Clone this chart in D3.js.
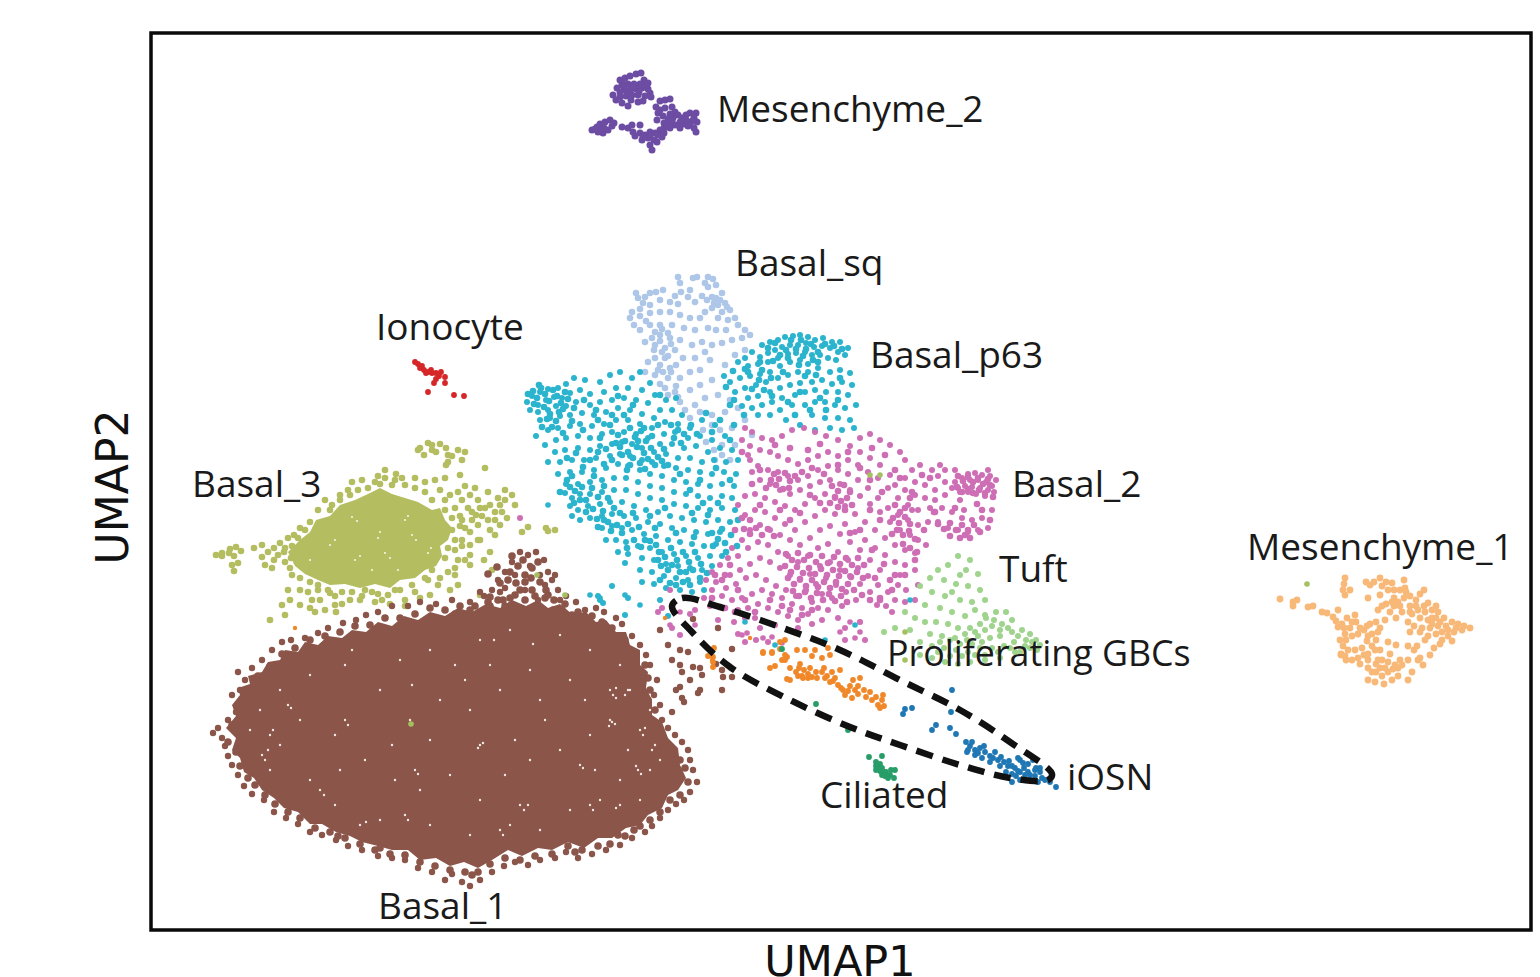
<!DOCTYPE html>
<html><head><meta charset="utf-8">
<script src="https://cdn.jsdelivr.net/npm/d3@7"></script>
<style>html,body{margin:0;background:#fff}svg{display:block}</style></head>
<body><svg id="c" width="1540" height="977"></svg>
<script>
const mesenchyme2=[620,80,625,78,630,76,636,74,641,73,644,80,648,83,640,84,634,84,628,84,622,85,617,88,620,92,625,90,630,90,636,89,642,88,648,89,650,93,645,96,638,95,632,95,626,96,620,97,613,95,616,100,622,103,631,100,638,102,628,106,643,101,651,97,660,101,665,100,670,99,656,107,660,110,665,108,672,107,675,112,670,114,658,113,663,116,668,119,672,122,664,123,657,120,678,115,682,118,686,120,690,113,696,113,694,118,697,122,690,124,684,124,680,128,694,128,696,132,675,125,670,128,664,128,660,130,655,133,650,132,645,135,640,133,635,136,633,132,628,128,622,127,654,140,650,145,652,150,657,142,662,137,658,135,642,140,648,138,600,124,605,122,610,120,612,126,604,128,597,127,592,130,598,132,603,133,608,130,614,123,632,125,640,125,686,115,680,122,624,87,633,87,639,92,628,93,622,82,645,86,684,119,688,126,692,121,601,130,595,129,667,125,673,118,650,136,643,137,664,133];
const ionocyte=[415,362,418,364,420,368,424,370,428,372,432,373,436,373,441,372,439,376,436,379,434,383,445,377,445,383,428,392,454,395,464,396,422,366,426,373,431,370];
const basalSq=[678,277,680,283,693,278,697,277,708,277,713,279,716,285,708,287,705,283,690,290,681,292,675,296,663,290,656,292,650,293,645,297,638,298,636,293,643,303,650,305,660,300,670,302,678,304,688,297,695,302,702,296,712,297,722,293,725,303,718,305,712,308,705,312,722,312,730,310,735,318,728,320,718,318,700,318,690,318,680,315,670,312,660,312,650,313,640,316,630,318,634,325,640,330,650,325,660,325,672,325,684,328,695,330,708,328,716,330,726,330,738,325,745,330,750,335,742,338,732,340,722,343,712,345,702,342,692,345,680,340,670,338,660,335,652,338,645,342,655,345,665,348,675,350,665,358,655,358,648,362,660,365,670,368,683,358,695,358,705,352,645,372,655,375,668,378,680,378,690,372,700,370,710,360,665,388,675,392,690,390,700,385,712,380,725,365,735,355,745,350,680,402,695,405,705,398,718,395,730,400,712,415,725,412,738,408,720,430,732,428,722,445,735,445,715,460,730,460,690,418,703,430,745,420,752,435,655,332,662,329,668,333,660,341,654,350,662,352,671,344,668,356,663,372,671,372,676,365,716,298,720,300,727,307,714,303,707,300,660,384,668,395,678,397,685,410,712,425,706,442,714,450,722,455,700,412,640,309,632,312,646,321,676,386,658,370];
const basalP63=[762,345,770,342,778,340,785,337,793,336,800,335,808,337,815,340,823,338,832,342,840,342,848,348,845,355,838,352,830,348,822,346,814,347,806,343,798,345,790,345,782,347,775,350,768,353,760,357,752,352,745,358,738,362,748,366,758,364,768,362,778,358,788,354,796,353,805,352,812,355,820,355,828,358,836,360,800,360,808,364,790,362,780,366,770,372,760,374,750,376,740,378,730,382,724,376,735,392,745,388,756,385,766,382,778,378,788,375,798,372,808,372,818,368,830,372,840,370,850,373,852,385,842,382,832,384,822,380,812,382,800,383,790,385,780,388,770,392,758,396,748,398,742,406,752,408,762,405,772,402,782,398,795,395,805,392,815,390,826,392,838,392,848,395,856,405,845,408,835,405,825,402,815,402,805,405,792,405,780,410,770,415,758,415,812,415,825,418,838,418,850,420,854,428,842,430,830,428,786,420,800,425,815,430,527,402,532,396,540,392,548,389,558,388,566,384,574,378,585,380,600,382,610,375,620,372,632,378,640,372,650,383,538,405,546,400,554,397,562,398,570,393,580,390,590,394,604,392,616,388,628,388,642,390,655,395,666,400,676,398,530,410,538,412,548,410,556,406,566,406,576,402,590,405,600,402,612,400,624,398,636,400,648,403,660,410,672,410,682,415,540,420,550,418,560,416,570,415,582,413,594,415,606,412,618,408,630,410,642,414,654,418,665,422,678,424,690,428,702,420,715,425,548,430,558,428,570,426,580,424,592,426,604,424,616,420,628,420,640,424,652,428,664,434,675,432,688,438,700,436,712,440,725,436,536,436,545,445,556,440,566,438,578,436,590,438,602,434,612,432,624,432,636,434,648,438,660,444,672,444,684,448,696,446,708,452,720,448,732,450,555,452,565,450,578,448,590,450,600,446,612,444,622,442,632,444,642,448,654,452,666,454,678,458,690,458,702,462,714,460,726,462,738,460,548,462,560,462,572,460,584,460,596,458,610,456,620,454,630,456,642,460,652,462,664,466,676,468,688,470,700,472,712,474,724,472,736,474,558,474,570,472,582,472,594,470,606,468,618,464,628,466,640,470,650,474,662,476,674,480,686,482,698,484,710,486,722,484,734,486,566,484,578,484,590,482,602,480,614,478,626,478,638,482,650,486,662,488,674,492,686,494,698,496,710,498,722,496,732,498,565,493,572,498,580,494,590,494,602,492,614,490,626,490,638,494,650,498,662,500,674,504,686,506,698,508,710,510,722,508,735,510,570,506,578,510,588,506,600,504,610,502,622,502,634,506,646,510,658,512,670,516,682,518,694,520,706,522,718,520,730,522,572,516,580,520,590,518,602,516,612,514,624,516,636,518,648,522,660,524,672,528,684,530,696,532,708,534,720,532,602,528,612,526,622,528,632,530,644,534,656,536,668,540,680,542,692,544,704,546,716,544,606,540,616,540,626,542,638,546,650,548,662,552,674,554,686,556,698,558,710,556,722,556,618,552,628,554,642,558,654,560,666,564,678,566,690,568,702,570,712,566,625,563,640,570,652,572,664,576,676,578,688,580,700,582,642,582,654,584,666,588,680,590,692,592,704,590,612,586,598,596,603,603,628,598,660,600,668,616,625,615,600,600];
const basalP63Dense=[533,391,537,398,541,388,545,394,549,401,553,390,557,396,561,403,565,392,544,407,550,414,556,421,552,427,547,419,559,412,563,409,568,399,534,404,528,394,539,385,801,340,806,349,811,344,796,349,803,356,791,340,786,350,818,352,825,344,813,360,799,365,818,362,834,346,842,349,788,358,775,343,768,348,780,355,773,361,762,370,771,378,783,372,759,380,748,372,760,362,618,435,625,441,630,428,635,437,641,431,646,441,652,436,620,447,628,452,637,447,644,453,651,448,658,457,664,449,633,458,640,463,648,459,655,465,662,461,622,455,616,443,612,460,606,449,638,441,630,465,645,469,671,425,678,430,684,434,691,425,697,434,674,438,681,443,570,487,575,491,582,487,586,500,592,488,598,497,604,486,608,498,574,503,580,500,586,512,593,509,597,519,603,511,608,522,614,508,620,513,617,525,622,533,628,524,633,513,639,527,645,540,641,547,634,540,627,548,650,541,656,545,611,531,604,520,598,527,560,492,567,480,572,476,659,552,665,557,671,548,677,560,683,552,689,562,695,552,701,564,707,573,700,578,693,570,686,572,680,572,672,565,668,570,661,566,658,560,683,582,676,585,670,583,690,585,660,580,712,533,718,539,725,543,731,535,722,529,737,546,713,546,726,552,590,460,598,452,604,464,594,476,583,467,600,438,612,415,598,420,624,415,633,405,644,428,658,425,668,465,680,474,690,490,703,503,692,513,665,508,650,516,676,533,655,528,627,470,576,453,567,458,583,430,572,421,563,433,542,427,574,408,584,400,596,410,610,425,618,396,660,395,730,405,744,415,764,390,752,389,772,396,788,402,800,392,820,398,810,410,826,410,795,415,838,400,840,378,805,376,816,375,745,369,733,371,726,387,734,400,720,420,706,413,734,425,730,440,712,432,716,468,700,480,730,480,718,503,738,520,708,515,694,537];
const basal2=[968,474,975,473,982,475,990,476,996,480,992,486,986,482,978,480,970,480,962,478,955,482,958,488,965,486,972,487,980,488,988,490,994,492,985,496,976,494,968,492,960,492,952,488,945,482,938,476,932,470,945,470,920,465,912,470,905,478,915,482,925,485,935,490,945,495,935,500,925,498,915,495,905,490,895,485,890,475,880,465,870,458,860,452,850,446,860,438,870,434,880,440,890,445,900,452,838,440,826,436,815,432,804,428,792,430,782,436,772,440,762,438,752,432,745,428,742,440,750,446,760,450,770,452,778,456,788,460,798,464,808,460,818,456,828,452,838,456,848,460,858,465,868,472,878,478,888,488,898,498,908,505,918,510,930,508,942,508,952,512,962,518,972,520,982,518,988,528,978,530,968,532,958,530,948,528,938,522,928,522,918,525,908,520,898,515,888,508,878,498,868,488,858,480,848,474,838,470,828,466,818,470,808,476,798,480,788,476,778,472,768,470,758,466,750,460,752,472,760,480,770,484,780,490,790,494,800,490,810,486,820,482,830,480,840,484,850,490,860,496,870,504,880,512,890,522,900,530,910,535,918,540,926,545,915,553,905,550,895,545,885,538,875,530,865,522,855,514,845,506,835,498,825,494,815,498,805,504,795,510,785,506,775,502,765,498,755,494,745,496,738,505,745,515,755,510,765,512,775,518,785,524,795,530,805,522,815,516,825,510,835,514,845,524,855,532,865,540,875,548,885,555,895,562,905,565,915,570,880,570,870,560,860,550,850,542,840,534,830,526,820,530,810,538,800,545,790,540,780,535,770,530,760,525,750,530,742,540,732,548,728,558,738,556,748,548,758,542,768,545,778,552,788,556,798,562,808,556,818,548,828,544,838,552,848,560,858,568,868,576,878,585,888,592,870,592,860,584,850,576,840,570,830,562,820,566,810,574,800,580,790,575,780,568,770,562,760,558,750,564,740,570,730,575,720,565,712,572,706,580,716,582,726,588,736,584,746,578,756,575,766,580,776,586,786,590,796,596,806,590,816,584,826,578,836,585,846,592,856,600,842,606,832,598,822,594,812,602,802,608,792,604,782,598,772,594,762,590,752,594,742,598,732,600,722,596,712,590,738,610,748,608,758,604,768,608,778,612,788,616,798,620,808,614,818,608,828,610,838,618,822,620,812,624,798,628,845,628,755,618,745,618,760,628,775,625,690,614,695,610,710,606,718,620,734,622,704,598,906,590,898,585,918,585,915,600,905,602,860,622,845,640,865,640,877,605,886,606,670,590,662,608,658,612,672,628,680,635,756,640,768,642,738,634,745,642,520,518,895,600,892,612,900,575,748,455,905,460,940,465,960,500,955,470,992,510,988,470,912,510,964,510];
const basal2Dense=[774,474,779,479,785,473,790,481,776,485,783,489,789,488,795,476,771,480,958,476,963,481,968,477,973,482,978,478,983,484,988,479,957,487,962,492,968,489,973,493,979,490,985,493,990,485,993,497,832,486,838,491,844,485,850,492,835,497,841,501,847,498,852,505,838,507,845,510,830,503,786,554,792,560,798,553,804,560,810,555,816,562,822,556,828,563,834,557,840,564,846,558,852,565,858,558,864,565,785,566,791,572,797,567,803,573,809,568,815,574,821,569,827,575,833,570,839,576,845,571,851,577,857,572,863,578,788,578,794,584,800,579,806,586,812,580,818,587,824,582,830,588,836,582,842,589,848,584,854,590,793,591,799,596,805,592,811,598,817,593,823,600,829,594,835,601,841,596,847,602,744,529,750,534,756,528,762,535,768,529,774,536,895,505,900,512,905,508,893,518,899,523,905,517,910,524,897,530,903,535,909,531,915,539,903,544,910,548,917,552,938,524,944,529,950,523,956,530,962,525,968,530,974,525,980,532,950,536,960,538,970,538,810,495,820,503,800,513,790,520,780,510,760,505,750,520,730,565,738,590,745,600,725,575,715,575,755,612,770,600,782,606,790,610,802,615,812,610,870,510,880,520,892,534,860,530,850,533,872,550,884,564,895,575,875,578,862,595,870,600,880,598,890,580,915,560,905,575,924,530,934,512,910,498,895,470,885,455,872,448,860,468,848,452,838,465,820,444,808,450,790,448,775,445,760,470,742,452,752,484,766,488,742,518,735,530,722,580,712,598,725,608,735,612,802,472,812,468,824,474,870,480,882,492,900,478,922,475,930,478,912,492,935,512,955,508,977,504,982,510,990,520,880,600,892,590,965,535];
const basal3=[216,555,222,553,230,549,236,547,241,551,234,556,229,553,222,556,238,563,234,571,232,565,254,548,262,545,268,552,274,548,280,543,288,538,294,535,300,528,292,546,284,552,274,560,265,565,262,557,285,562,272,568,290,568,292,575,288,590,282,605,300,590,308,592,312,600,318,585,328,590,335,596,342,604,325,610,315,612,336,612,350,600,362,596,372,592,382,600,395,590,405,600,415,592,428,580,432,570,440,578,448,572,455,568,458,560,448,548,442,540,452,530,462,540,470,532,478,525,490,530,488,520,495,512,500,505,485,508,478,500,470,495,462,500,455,508,445,510,472,512,482,516,462,520,452,518,460,526,438,528,432,500,425,492,415,488,405,485,395,480,385,478,375,482,368,488,358,490,348,490,340,500,332,505,325,500,352,482,378,476,392,485,432,450,428,443,424,455,418,450,420,448,432,445,440,444,446,448,436,452,448,455,452,456,458,450,465,452,462,460,448,462,446,465,460,475,485,468,458,492,512,495,522,532,500,525,546,528,528,527,548,531,555,530,480,540,490,552,484,560,470,555,465,560,455,575,438,585,430,595,270,620,285,615,480,595,492,570];
const basal3Fill=[278,555,285,548,291,558,300,578,310,582,318,590,330,593,342,592,352,592,365,590,378,594,388,595,400,590,412,585,425,578,435,560,445,558,455,550,462,546,470,545,478,540,455,540,465,528,472,520,480,508,490,505,498,498,505,500,488,492,475,488,465,486,450,495,440,490,445,478,435,480,425,482,415,478,402,478,396,474,385,470,380,484,362,480,350,495,340,495,330,510,318,510,310,522,305,530,298,538,476,515,468,508,460,516,445,500,502,512,507,518,515,505,505,490,495,520,495,535,470,565,458,585,450,590,420,598,405,606,390,604,375,602,360,600,335,605,300,605,290,600,310,608,320,600];
const basal3Core=[288,552,300,540,310,532,316,520,330,516,340,505,355,500,368,494,380,488,392,494,405,498,418,502,432,510,440,508,445,520,452,528,448,540,440,546,442,556,436,566,425,570,415,578,400,580,390,588,375,584,360,588,345,584,330,585,318,580,305,574,295,566];
const basal3Gaps=[352,517,357,521,385,553,390,558,378,538,380,532,412,535,416,540,355,560,360,556,330,545,335,540,405,520,408,516,428,553,431,548,372,570,310,560,398,570];
const tuft=[958,556,970,560,948,565,966,570,978,574,938,570,930,578,944,580,956,584,968,586,980,590,920,586,932,592,945,596,960,600,972,602,985,600,925,605,940,608,952,612,965,616,975,610,985,615,996,612,1006,612,1012,620,1002,624,992,626,980,624,970,628,958,628,948,624,936,622,925,622,915,618,905,612,930,634,942,636,955,638,967,640,978,636,990,638,1000,636,1012,632,1022,630,1030,634,1036,640,1026,640,1014,642,1004,646,992,648,980,648,968,652,956,650,944,648,932,646,920,642,910,630,895,628,884,632,920,655,932,658,945,662,958,664,970,662,985,660,1000,658,1015,652,1030,648,1040,645,1037,650,960,575,952,592,985,655,998,652,986,618,994,620,1000,630,1008,628,1018,636,1025,646,1032,642,975,632,985,630,965,634,982,642,972,644,960,644,950,640,940,642,1010,648,1020,652,975,655,962,656,950,656,938,652];
const proliferating=[763,652,772,652,770,668,780,649,785,660,790,668,785,655,797,650,805,650,815,650,828,648,830,655,822,658,812,656,800,664,796,672,802,676,808,674,816,672,824,668,832,672,840,670,835,678,825,678,817,678,808,678,798,676,790,680,830,682,838,685,843,690,850,686,853,680,858,686,860,678,845,695,852,698,858,694,864,690,870,692,872,700,878,705,884,706,882,700,876,697,883,695,780,642,785,640,714,648,708,656,713,662,799,668,804,670,810,668,803,678,812,677,822,672,827,676,833,681,841,688,848,691,855,690,866,697,880,708,787,657,782,660,775,666,787,679,772,653,763,653,713,657,713,667];
const iosn=[952,690,905,709,912,708,903,714,936,725,932,730,951,712,966,742,970,746,975,750,980,748,985,752,990,756,995,752,998,760,1004,762,1008,766,1015,768,1020,760,1028,764,1035,770,1040,772,1042,778,1035,776,1028,772,1020,772,1012,774,1006,772,1000,766,990,762,982,758,975,755,968,750,1025,775,1020,780,1038,782,1050,782,1056,787,1045,780,1030,780,1012,782,950,728,956,734,1018,758,972,742,978,753,984,746,993,758,1001,757,1012,766,1018,771,1024,768,1030,775,1036,768,1009,761,1023,763,1033,760,1016,776,1040,768,967,752];
const ciliated=[869,757,882,756,876,762,878,766,882,768,886,772,890,775,894,778,888,778,882,775,876,770,895,770,816,704,848,730,880,764,884,772,782,649,876,766,880,771,885,776,891,770];
const mesenchyme1=[1280,599,1293,602,1297,600,1293,606,1308,607,1313,606,1322,612,1327,613,1333,617,1336,621,1338,627,1342,624,1347,618,1355,615,1356,622,1350,628,1345,634,1340,640,1346,640,1352,636,1358,634,1364,630,1370,624,1376,622,1367,641,1362,648,1355,650,1348,650,1345,656,1352,660,1358,658,1368,654,1372,646,1376,640,1378,632,1380,628,1372,634,1367,626,1343,646,1341,654,1346,660,1341,655,1345,595,1343,590,1344,584,1350,590,1345,578,1366,582,1370,585,1374,582,1380,578,1386,582,1382,586,1392,583,1394,590,1388,590,1404,580,1405,588,1400,590,1406,592,1410,596,1404,598,1398,602,1392,602,1410,606,1416,600,1420,594,1424,590,1418,610,1424,606,1428,603,1432,610,1438,612,1444,618,1436,618,1428,620,1420,618,1412,614,1408,622,1414,626,1422,628,1430,628,1438,626,1446,626,1452,622,1458,624,1464,626,1470,628,1462,630,1454,632,1448,636,1452,641,1442,640,1436,634,1428,636,1420,632,1410,632,1386,604,1394,606,1390,612,1382,606,1378,610,1385,620,1396,618,1402,612,1368,598,1380,595,1388,642,1396,645,1408,646,1414,650,1417,646,1425,640,1434,648,1440,644,1400,660,1390,654,1380,650,1382,660,1376,664,1368,660,1360,664,1372,672,1368,680,1375,682,1384,684,1392,680,1398,676,1388,672,1382,676,1376,672,1388,662,1395,665,1402,665,1408,660,1418,660,1423,665,1430,655,1412,672,1408,680,1398,668,1364,655,1338,610,1420,658,1425,612,1432,618,1440,622,1448,630,1456,628,1442,632,1432,624,1416,606,1410,612,1378,660,1385,668,1393,669,1380,668,1368,668,1360,628,1352,622,1344,628,1375,650,1368,636,1436,606,1400,606,1394,598];
const basal1=[213,733,218,728,222,738,228,720,236,712,232,695,240,690,245,680,238,672,252,668,262,660,272,650,282,642,291,640,305,638,318,633,328,628,343,623,356,620,366,615,378,612,392,606,408,606,420,602,436,604,452,600,470,602,484,596,492,590,498,580,505,572,512,562,520,552,528,555,536,552,544,560,548,572,552,580,558,590,566,596,576,602,585,610,596,608,604,612,616,618,622,624,632,636,640,645,646,655,650,665,657,680,654,695,660,705,662,720,668,728,675,735,682,742,688,750,690,760,693,770,697,782,690,792,684,800,676,804,668,810,660,818,652,826,645,832,632,838,620,845,606,850,592,854,578,858,566,852,555,858,540,860,528,865,515,862,504,866,492,872,480,880,470,886,462,882,452,874,445,880,432,872,418,868,405,860,392,858,378,856,362,850,348,846,336,840,322,835,310,832,298,824,286,818,274,812,264,800,252,794,244,786,238,775,232,765,228,756,225,746,660,630,668,645,680,650,672,660,682,672,690,680,700,690,676,690,684,702,672,712,716,664,722,670,700,668,530,566,515,575,500,592,480,592,505,588,525,590,545,585,560,600,538,600,555,575,540,575,688,652,680,665,693,667,702,675,680,687,698,693,722,690,682,698,723,677,732,677,732,649,693,619,718,628];
const basal1Fill=[510,572,518,566,525,575,532,568,540,582,532,590,520,590,510,598,498,600,488,602,525,600,545,598,553,610,540,610,562,610,572,615,582,620,592,616,602,622,612,628,625,640,635,655,645,665,648,678,650,690,648,700,655,710,660,730,670,748,680,760,685,768,688,782,680,795,670,800,660,812,650,820,640,826,625,836,610,844,598,846,582,850,568,846,552,854,535,856,520,860,505,858,490,864,478,872,465,872,450,870,435,866,420,862,405,855,390,854,375,850,360,844,345,838,330,832,315,828,300,818,288,812,275,804,265,795,255,785,248,778,240,766,236,752,228,742,232,725,240,706,246,690,258,676,270,666,282,654,295,648,310,640,325,636,340,632,355,626,370,625,385,618,400,618,415,614,430,608,445,610,460,606,475,606,490,606,505,606,515,610,470,610,455,614,240,735,243,745,246,730,250,700,262,690,275,675,640,690,660,745,672,770,665,790,634,830,618,835,575,852,650,808,488,574,497,567,548,595,525,582,472,875,380,848,338,836,508,580,516,583,523,560,531,578,538,562,546,590,554,600,500,583,490,597,515,595,535,596,503,600,512,556,565,604,578,612];
const basal1Core=[232,705,240,695,238,688,250,684,248,676,262,672,268,662,280,660,285,650,298,652,305,642,318,645,328,636,342,638,352,630,366,632,378,622,392,626,404,616,418,620,430,612,445,616,458,608,472,612,486,604,500,608,512,600,526,606,538,600,548,608,560,604,572,614,586,612,596,622,606,620,616,632,626,632,630,645,640,650,640,665,648,672,646,688,652,700,652,715,662,722,668,738,678,748,680,765,686,778,678,790,668,795,662,808,648,815,640,825,626,828,612,838,598,838,584,848,568,842,552,850,538,848,522,856,508,850,492,860,478,868,464,862,450,866,436,858,420,860,408,850,392,850,378,846,362,842,350,836,336,832,322,824,310,824,298,812,284,808,274,798,262,790,254,778,244,772,240,758,232,750,236,738,226,728,236,716];
const basal1Gaps=[352,650,400,660,430,650,455,665,480,640,510,630,560,635,590,650,620,665,630,690,650,710,610,720,570,680,530,670,500,690,470,710,440,700,410,720,380,690,345,665,310,675,280,690,260,710,300,720,335,735,280,745,250,730,270,770,310,780,340,770,365,760,395,780,420,790,450,775,480,800,505,775,530,760,560,750,590,735,620,780,650,770,640,800,600,800,570,810,540,830,510,825,470,835,430,825,380,820,335,805,480,745,515,740,545,720,585,700,430,740,392,745,465,680,540,700,490,665,412,685,595,770,628,750,660,760,483,743,478,748,612,722,609,726,615,724,533,644,494,640,640,730,643,735,645,728,625,695,628,690,655,745,652,750,620,805,616,808,580,765,583,768,405,815,408,820,288,705,291,708,270,735,273,730,320,790,324,795,360,825,366,822,610,690,613,695,616,698,616,688,636,766,638,770,641,774,590,805,593,810,500,830,503,835,520,805,524,810,528,805,415,770,418,774,345,720,348,725,262,755,265,760,268,750];
const clustersLabels=["Mesenchyme_2","Basal_sq","Ionocyte","Basal_p63","Basal_2","Basal_3","Tuft","Mesenchyme_1","Proliferating GBCs","iOSN","Ciliated","Basal_1"];
const labelX=[717,735,376,870,1012,192,999,1247,887,1067,820,378];
const labelY=[122,276,340,368,497,497,582,560,666,790,808,919];
const outlineTop=[[672,606],[682,598],[720,607],[780,627],[840,650],[900,680],[960,710],[1010,742],[1052,774]];
const outlineBottom=[[1048,780],[1010,778],[960,765],[900,745],[850,727],[790,700],[730,667],[692,632]];
const axisLabels=["UMAP1","UMAP2"];
const strayOlive=[411,724,537,575,565,595,1307,584,870,475,880,475,905,660,905,632];
const strayCyan=[548,505,600,598,625,595,590,595,640,605,745,622,775,645,815,640,825,640,855,625,910,600];
const strayOrange=[665,618,712,660,750,638,295,628];
const strayPink=[742,635,747,633,763,638,772,637,782,643,840,632,850,622,860,622,860,632,855,638,695,625,680,612,670,625];

const pts=a=>d3.range(0,a.length,2).map(i=>[a[i],a[i+1]]);
const svg=d3.select("#c");
const x=d3.scaleLinear().domain([151,1531]).range([151,1531]);
const y=d3.scaleLinear().domain([33,930]).range([33,930]);
const line=d3.line(d=>x(d[0]),d=>y(d[1]));
const area=(a,c)=>svg.append("path").attr("d",line.curve(d3.curveLinearClosed)(pts(a))).attr("fill",c);
const dots=(a,c,r=3.3)=>svg.append("g").selectAll("circle").data(pts(a)).join("circle")
  .attr("cx",d=>x(d[0])).attr("cy",d=>y(d[1])).attr("r",r).attr("fill",c);

area(basal3Core,"#b4bd60");
dots(basal3,"#b4bd60");
dots(basal3Fill,"#b4bd60");
dots(basal3Gaps,"#f4f4e4",1.1);
area(basal1Core,"#8b5549");
dots(basal1,"#8b5549",3.2);
dots(basal1Fill,"#8b5549",3.8);
dots(basal1Gaps,"#f3eae6",1.2);
dots(basalSq,"#aec7e8",3.3);
dots(basalP63,"#2bb4cd",3);
dots(basalP63Dense,"#2bb4cd",3.3);
dots(basal2,"#ce6fb6",3);
dots(basal2Dense,"#ce6fb6",3.3);
dots(strayPink,"#ce6fb6",2.8);
dots(tuft,"#9fd48c",3);
dots(mesenchyme2,"#6d4ca3",3.5);
dots(ionocyte,"#d62728",2.9);
dots(proliferating,"#f0882a",2.9);
dots(iosn,"#1f77b4",2.9);
dots(ciliated,"#279e68",2.9);
dots(mesenchyme1,"#f8b878",3.4);
dots(strayOlive,"#a5c060",2.8);
dots(strayCyan,"#2bb4cd",2.8);
dots(strayOrange,"#f0882a",2.2);

svg.append("path")
 .attr("d",d3.line(d=>x(d[0]),d=>y(d[1])).curve(d3.curveCatmullRomClosed)(outlineTop.concat(outlineBottom)))
 .attr("fill","none").attr("stroke","#111").attr("stroke-width",6.5).attr("stroke-dasharray","17 10");

svg.append("rect").attr("x",x(151)).attr("y",y(33)).attr("width",x(1531)-x(151)).attr("height",y(930)-y(33))
 .attr("fill","none").attr("stroke","#0a0a0a").attr("stroke-width",3.5);

svg.append("g").selectAll("text").data(clustersLabels).join("text")
 .attr("x",(d,i)=>labelX[i]).attr("y",(d,i)=>labelY[i]).text(d=>d)
 .attr("font-family","'Open Sans'").attr("font-size",d=>d.length>15?35.8:37).attr("fill","#1a1a1a");
svg.append("text").attr("x",840).attr("y",976).attr("text-anchor","middle").text(axisLabels[0])
 .attr("font-family","'DejaVu Sans'").attr("font-size",43).attr("fill","#111");
svg.append("text").attr("transform","translate(128,487) rotate(-90)").attr("text-anchor","middle").text(axisLabels[1])
 .attr("font-family","'DejaVu Sans'").attr("font-size",44).attr("fill","#111");
</script></body></html>
